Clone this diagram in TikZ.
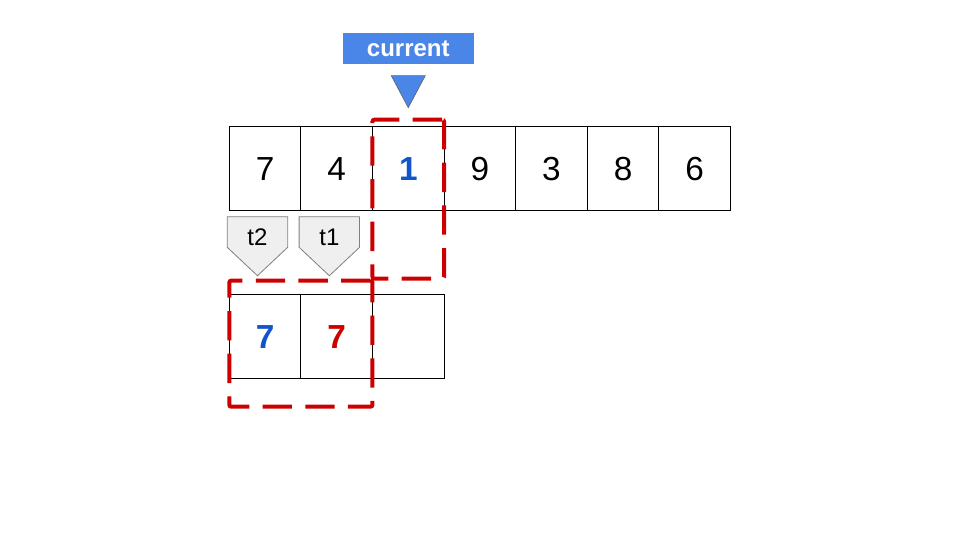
\documentclass[tikz,border=0pt]{standalone}
\usepackage{fontspec}
\setmainfont{Liberation Sans}
\usetikzlibrary{positioning,calc,fit}

\definecolor{curblue}{HTML}{4A86E8}
\definecolor{numblue}{HTML}{1155CC}
\definecolor{numred}{HTML}{CC0000}
\definecolor{tagfill}{HTML}{EFEFEF}
\definecolor{tagline}{HTML}{7F7F7F}

\begin{document}
\begin{tikzpicture}[
    cell/.style={
        rectangle,
        draw=black,
        line width=0.8pt,
        outer sep=0pt,
        minimum width=53.7pt,
        minimum height=63pt,
        font=\fontsize{25}{30}\selectfont
    },
    hot/.style={font=\fontsize{25}{30}\selectfont\bfseries},
    label/.style={
        rectangle,
        fill=curblue,
        text=white,
        inner sep=0pt,
        minimum width=98.25pt,
        minimum height=23.25pt,
        font=\fontsize{18}{21}\selectfont\bfseries
    },
    pointer/.style={fill=curblue, draw=black!60, line width=0.5pt},
    tag/.style={fill=tagfill, draw=tagline, line width=0.6pt},
    taglabel/.style={inner sep=0pt, font=\fontsize{18}{21}\selectfont},
    window/.style={
        rectangle,
        draw=numred,
        line width=3pt,
        dash pattern=on 22pt off 10pt,
        rounded corners=1.5pt,
        inner sep=0pt
    }
]

\useasboundingbox (0,0) rectangle (720pt,405pt);

% =========================================================
% ARRAY
% =========================================================

\node[cell] (c1) at (198.8pt,278.5pt) {7};
\node[cell, right=0pt of c1] (c2) {4};
\node[cell, right=0pt of c2] (c3) {\textcolor{numblue}{\bfseries 1}};
\node[cell, right=0pt of c3] (c4) {9};
\node[cell, right=0pt of c4] (c5) {3};
\node[cell, right=0pt of c5] (c6) {8};
\node[cell, right=0pt of c6] (c7) {6};

% =========================================================
% CURRENT
% =========================================================

\node[label, above=46.5pt of c3] (current) {current};

\draw[pointer] ($(c3.north)+(0,14.25pt)$) coordinate (tip)
    -- ++(-12.75pt,24pt) -- ++(25.5pt,0) -- cycle;

% =========================================================
% TEMPS
% =========================================================

\draw[tag] (193.1pt,198.2pt) -- ++(-22.65pt,21.3pt) -- ++(0,23pt)
    -- ++(45.3pt,0) -- ++(0,-23pt) -- cycle;
\node[taglabel] (t2) at (193.1pt,226.9pt) {t2};

\draw[tag] (247pt,198.2pt) -- ++(-22.65pt,21.3pt) -- ++(0,23pt)
    -- ++(45.3pt,0) -- ++(0,-23pt) -- cycle;
\node[taglabel] (t1) at (247pt,226.9pt) {t1};

\node[cell, below=63pt of c1] (b1) {\textcolor{numblue}{\bfseries 7}};
\node[cell, right=0pt of b1] (b2) {\textcolor{numred}{\bfseries 7}};
\node[cell, right=0pt of b2] (b3) {};

% =========================================================
% WINDOWS
% =========================================================

\coordinate (w1a) at ($(c3.north west)+(0,5.25pt)$);
\coordinate (w1b) at ($(c3.south east)+(0,-51pt)$);
\node[window, fit=(w1a)(w1b)] (win1) {};

\coordinate (w2a) at ($(b1.north west)+(0,10.5pt)$);
\coordinate (w2b) at ($(b2.south east)+(0,-21pt)$);
\node[window, fit=(w2a)(w2b)] (win2) {};

\end{tikzpicture}
\end{document}
